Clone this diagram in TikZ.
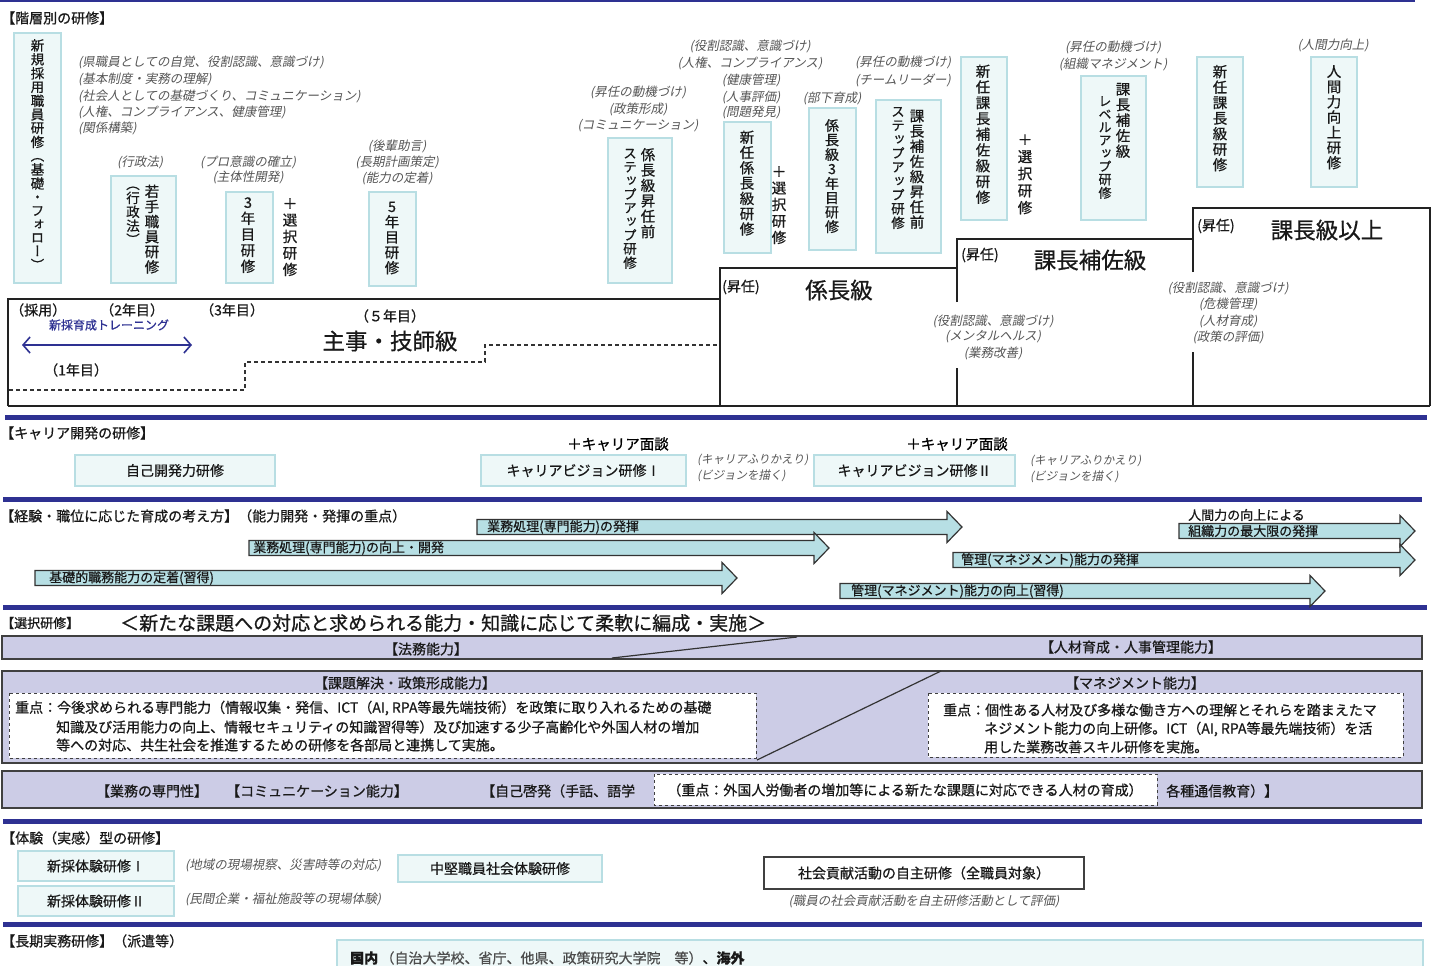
\documentclass[tikz,border=0pt]{standalone}
\usepackage{fontspec}
\setmainfont{Noto Sans CJK JP}[RawFeature={embolden=0.7}]
\newfontfamily\itf[FakeSlant=0.2]{Noto Sans CJK JP}
\newfontfamily\vf[RawFeature={+vert;embolden=0.7}]{Noto Sans CJK JP}
\usetikzlibrary{arrows.meta}
\definecolor{navy}{HTML}{2E3192}
\definecolor{boxfill}{HTML}{EEF8F8}
\definecolor{boxline}{HTML}{B8DEE3}
\definecolor{lav}{HTML}{CCCCE6}
\definecolor{arrfill}{HTML}{B7DFE4}
\definecolor{notegray}{HTML}{555555}
\definecolor{lvlline}{HTML}{222222}
\makeatletter
\newdimen\vcstep
\newcommand\vcol[2]{\vcstep=#1\relax\vbox{\offinterlineskip\vc@#2\@nil}}
\def\vc@#1#2\@nil{\hbox to 1.05em{\hss\vrule width 0pt height .8\vcstep depth .2\vcstep\relax#1\hss}\ifx\relax#2\relax\else\vc@#2\@nil\fi}
\makeatother
\tikzset{
 hdr/.style={font=\fontsize{14}{14}\selectfont, anchor=west, inner sep=0, text=black!90},
 cbx/.style={draw=boxline, fill=boxfill, line width=1.3, inner sep=0, font=\fontsize{14}{14}\selectfont, text=black!90},
 vtx/.style={inner sep=0, font=\vf\fontsize{14.5}{14.5}\selectfont, text=black!90},
 note/.style={font=\itf\fontsize{12.5}{12.5}\selectfont, text=notegray, inner sep=0},
 lvl/.style={draw=lvlline, line width=2.5},
 big/.style={font=\fontsize{22.5}{22.5}\selectfont, inner sep=0, text=black!90},
 small/.style={font=\fontsize{14}{14}\selectfont, inner sep=0, text=black!90},
 divider/.style={draw=navy, line width=5},
 arr/.style={draw=black!80, line width=1.2, fill=arrfill},
 arrlbl/.style={font=\fontsize{13}{13}\selectfont, anchor=west, inner sep=0, text=black!90},
 band/.style={draw=black!75, line width=1.2, fill=lav},
 dbox/.style={draw=black!75, dashed, line width=1, fill=white},
 body/.style={font=\fontsize{14}{14}\selectfont, anchor=west, inner sep=0, text=black!90},
}
\newcommand\cbox[6][]{\node[cbx,minimum width={(#5)-(#3)},minimum height={(#6)-(#4)},#1] (#2) at ({(#3+#5)/2},{(#4+#6)/2}) {};}
\newcommand\tbox[7][]{\node[cbx,minimum width={(#5)-(#3)},minimum height={(#6)-(#4)},#1] (#2) at ({(#3+#5)/2},{(#4+#6)/2}) {#7};}
\newcommand\vt[6][]{\node[vtx,#1] (#2) at (#3,#4) {\vcol{#5pt}{#6}};}
\newcommand\nt[4]{\node[note] (#1) at (#2,#3) {#4};}
\newcommand\ntl[4]{\node[note,anchor=west] (#1) at (#2,#3) {#4};}
\newcommand\harrow[4]{\draw[arr] (#1,#3-#4) -- (#2-15,#3-#4) -- (#2-15,#3-#4-8) -- (#2,#3) -- (#2-15,#3+#4+8) -- (#2-15,#3+#4) -- (#1,#3+#4) -- cycle;}
\begin{document}
\begin{tikzpicture}[x=1pt,y=-1pt]
\useasboundingbox (0,0) rectangle (1437,966);
\fill[white] (0,0) rectangle (1437,966);
% top line and dividers
\draw[navy, line width=2] (0,1) -- (1415,1);
\draw[divider] (5,417) -- (1427,417);
\draw[divider] (3,499) -- (1422,499);
\draw[divider] (3,607) -- (1427,607);
\draw[divider] (3,821) -- (1422,821);
\draw[divider] (3,924) -- (1422,924);

% ===== 階層別 =====
\node[hdr] (h1) at (1,18) {【階層別の研修】};

\cbox{b1}{14}{33}{61}{283}
\cbox{b2}{111}{176}{176}{283}
\cbox{b3}{226}{192}{273}{283}
\cbox{b4}{369}{192}{416}{286}
\cbox{b5}{608}{138}{672}{283}
\cbox{b6}{724}{122}{771}{253}
\cbox{b7}{809}{108}{856}{250}
\cbox{b8}{876}{100}{941}{253}
\cbox{b9}{961}{57}{1007}{220}
\cbox{b10}{1081}{76}{1146}{220}
\cbox{b11}{1197}{57}{1243}{187}
\cbox{b12}{1311}{57}{1357}{187}

\vt[font=\vf\fontsize{13.5}{13.5}\selectfont]{c1}{37.5}{156}{13.5}{新規採用職員研修（基礎・フォロー）}
\vt{c2a}{152}{230}{15}{若手職員研修}
\vt[font=\vf\fontsize{13.5}{13.5}\selectfont]{c2b}{133}{213}{13}{（行政法）}
\vt{c3}{248}{235}{16}{3年目研修}
\vt{p3}{290}{237}{16.5}{＋選択研修}
\vt{c4}{392}{238}{15.3}{5年目研修}
\vt{c5a}{648}{194}{15.4}{係長級昇任前}
\vt[font=\vf\fontsize{13.5}{13.5}\selectfont]{c5b}{630}{209}{13.6}{ステップアップ研修}
\vt{c6}{747}{184}{15.3}{新任係長級研修}
\vt{p6}{779}{205}{16.5}{＋選択研修}
\vt[font=\vf\fontsize{14}{14}\selectfont]{c7}{832}{177}{14.3}{係長級3年目研修}
\vt{c8a}{917}{170}{15.1}{課長補佐級昇任前}
\vt[font=\vf\fontsize{13.5}{13.5}\selectfont]{c8b}{898}{168}{13.9}{ステップアップ研修}
\vt{c9}{983}{135}{15.75}{新任課長補佐級研修}
\vt{p9}{1025}{174}{17}{＋選択研修}
\vt{c10a}{1123}{121}{15.5}{課長補佐級}
\vt[font=\vf\fontsize{13}{13}\selectfont]{c10b}{1105}{148}{13}{レベルアップ研修}
\vt{c11}{1220}{119}{15.5}{新任課長級研修}
\vt{c12}{1334}{118}{15.2}{人間力向上研修}

% notes
\ntl{n1a}{78}{62}{(県職員としての自覚、役割認識、意識づけ)}
\ntl{n1b}{78}{79}{(基本制度・実務の理解)}
\ntl{n1c}{78}{96}{(社会人としての基礎づくり、コミュニケーション)}
\ntl{n1d}{78}{112}{(人権、コンプライアンス、健康管理)}
\ntl{n1e}{78}{128}{(関係構築)}
\nt{n2}{140}{162}{(行政法)}
\nt{n3a}{248}{162}{(プロ意識の確立)}
\nt{n3b}{248}{177}{(主体性開発)}
\nt{n4a}{397}{146}{(後輩助言)}
\nt{n4b}{397}{162}{(長期計画策定)}
\nt{n4c}{397}{178}{(能力の定着)}
\nt{n5a}{638}{92}{(昇任の動機づけ)}
\nt{n5b}{638}{109}{(政策形成)}
\nt{n5c}{638}{126}{(コミュニケーション)}
\nt{n6a}{750}{46}{(役割認識、意識づけ)}
\nt{n6b}{750}{63}{(人権、コンプライアンス)}
\nt{n6c}{751}{80}{(健康管理)}
\nt{n6d}{751}{97}{(人事評価)}
\nt{n6e}{751}{112}{(問題発見)}
\nt{n7}{832}{98}{(部下育成)}
\nt{n8a}{903}{62}{(昇任の動機づけ)}
\nt{n8b}{903}{80}{(チームリーダー)}
\nt{n10a}{1113}{47}{(昇任の動機づけ)}
\nt{n10b}{1113}{64}{(組織マネジメント)}
\nt{n12}{1333}{45}{(人間力向上)}

% level staircase
\draw[lvl] (8,406) -- (1430,406);
\draw[lvl] (8,406) -- (8,299) -- (720,299);
\draw[lvl] (720,406) -- (720,268) -- (957,268);
\draw[lvl] (957,406) -- (957,368);
\draw[lvl] (957,302) -- (957,239) -- (1193,239);
\draw[lvl] (1193,406) -- (1193,352);
\draw[lvl] (1193,272) -- (1193,208) -- (1430,208) -- (1430,406);
\draw[black!80, line width=1.2, dash pattern=on 4pt off 3pt] (9,390) -- (245,390) -- (245,362) -- (485,362) -- (485,345) -- (718,345);

\node[small,anchor=west] (y0) at (10,310) {（採用）};
\node[small,anchor=west] (y2) at (100,310) {（2年目）};
\node[small,anchor=west] (y3) at (200,310) {（3年目）};
\node[small,anchor=west] (y1) at (44,370) {（1年目）};
\node[font=\fontsize{12}{12}\selectfont, text=navy, inner sep=0] (trn) at (109,325) {新採育成トレーニング};
\coordinate (ta) at (22,345);
\coordinate (tb) at (192,345);
\draw[navy, line width=1.6, {Straight Barb[length=7pt,width=16pt]}-{Straight Barb[length=7pt,width=16pt]}] (ta) -- (tb);
\node[small] (y5) at (390,316) {（５年目）};
\node[big] (L1) at (390,341) {主事・技師級};
\node[small,anchor=west] (s1) at (722,287) {(昇任)};
\node[big] (L2) at (839,290) {係長級};
\node[small,anchor=west] (s2) at (961,255) {(昇任)};
\node[big] (L3) at (1090,260) {課長補佐級};
\node[small,anchor=west] (s3) at (1197,226) {(昇任)};
\node[big] (L4) at (1327,230) {課長級以上};
\nt{m1}{993}{321}{(役割認識、意識づけ)}
\nt{m2}{993}{337}{(メンタルヘルス)}
\nt{m3}{993}{353}{(業務改善)}
\nt{k1a}{1228}{288}{(役割認識、意識づけ)}
\nt{k1b}{1228}{304}{(危機管理)}
\nt{k1c}{1228}{321}{(人材育成)}
\nt{k1d}{1228}{337}{(政策の評価)}

% ===== キャリア =====
\node[hdr] (h2) at (0,433) {【キャリア開発の研修】};
\tbox{cv0}{75}{455}{275}{486}{自己開発力研修}
\tbox{cv1}{481}{455}{686}{486}{キャリアビジョン研修Ⅰ}
\tbox{cv2}{814}{455}{1015}{486}{キャリアビジョン研修Ⅱ}
\node[font=\fontsize{14.5}{14.5}\selectfont, inner sep=0] (pm1) at (618,444) {＋キャリア面談};
\node[font=\fontsize{14.5}{14.5}\selectfont, inner sep=0] (pm2) at (957,444) {＋キャリア面談};
\ntl{cn1a}{697}{460}{\fontsize{11.5}{11.5}\selectfont(キャリアふりかえり)}
\ntl{cn1b}{697}{476}{\fontsize{11.5}{11.5}\selectfont(ビジョンを描く)}
\ntl{cn2a}{1030}{461}{\fontsize{11.5}{11.5}\selectfont(キャリアふりかえり)}
\ntl{cn2b}{1030}{477}{\fontsize{11.5}{11.5}\selectfont(ビジョンを描く)}

% ===== 考え方 arrows =====
\node[hdr] (h3) at (0,516) {【経験・職位に応じた育成の考え方】（能力開発・発揮の重点）};
\harrow{477}{962}{527}{7.5}
\harrow{249}{829}{548}{7.5}
\harrow{35}{737}{578}{7.5}
\harrow{1179}{1415}{531}{7.5}
\harrow{953}{1415}{560}{7.5}
\harrow{840}{1325}{591}{7.5}
\node[arrlbl] (a1) at (487,527) {業務処理(専門能力)の発揮};
\node[arrlbl] (a2) at (253,548) {業務処理(専門能力)の向上・開発};
\node[arrlbl] (a3) at (49,578) {基礎的職務能力の定着(習得)};
\node[arrlbl] (a4t) at (1188,515) {人間力の向上による};
\node[arrlbl] (a4) at (1188,531) {組織力の最大限の発揮};
\node[arrlbl] (a5) at (961,560) {管理(マネジメント)能力の発揮};
\node[arrlbl] (a6) at (851,591) {管理(マネジメント)能力の向上(習得)};

% ===== 選択研修 =====
\node[hdr,font=\fontsize{13}{13}\selectfont] (h4) at (1,623) {【選択研修】};
\node[hdr,font=\fontsize{19}{19}\selectfont] (h4b) at (120,623) {＜新たな課題への対応と求められる能力・知識に応じて柔軟に編成・実施＞};
\draw[band] (2,636) rectangle (1422,659);
\draw[black!80, line width=1.2] (612,658) -- (797,637);
\node[small] (sb1) at (426,649) {【法務能力】};
\node[small] (sb2) at (1131,647) {【人材育成・人事管理能力】};
\draw[band] (2,671) rectangle (1422,763);
\draw[dbox] (9,693) rectangle (756,758);
\draw[dbox] (928,693) rectangle (1403,757);
\draw[black!80, line width=1.2] (757,760) -- (941,671);
\node[small] (sb3) at (405,683) {【課題解決・政策形成能力】};
\node[small] (sb4) at (1135,683) {【マネジメント能力】};
\node[body] (t1) at (15,708) {重点：今後求められる専門能力（情報収集・発信、ICT（AI, RPA等最先端技術）を政策に取り入れるための基礎};
\node[body] (t2) at (56,727) {知識及び活用能力の向上、情報セキュリティの知識習得等）及び加速する少子高齢化や外国人材の増加};
\node[body] (t3) at (56,745) {等への対応、共生社会を推進するための研修を各部局と連携して実施。};
\node[body] (u1) at (943,710) {重点：個性ある人材及び多様な働き方への理解とそれらを踏まえたマ};
\node[body] (u2) at (984,729) {ネジメント能力の向上研修。ICT（AI, RPA等最先端技術）を活};
\node[body] (u3) at (984,747) {用した業務改善スキル研修を実施。};
\draw[band] (2,771) rectangle (1422,808);
\draw[dbox] (654,774) rectangle (1157,805);
\node[small] (w1) at (152,791) {【業務の専門性】};
\node[small] (w2) at (317,791) {【コミュニケーション能力】};
\node[body] (w3) at (481,791) {【自己啓発（手話、語学};
\node[small] (w4) at (905,790) {（重点：外国人労働者の増加等による新たな課題に対応できる人材の育成）};
\node[body] (w5) at (1166,791) {各種通信教育）】};

% ===== 体験型 =====
\node[hdr] (h5) at (1,838) {【体験（実感）型の研修】};
\tbox{e1}{18}{851}{174}{881}{新採体験研修Ⅰ}
\tbox{e2}{398}{855}{602}{882}{中堅職員社会体験研修}
\tbox{e3}{18}{886}{174}{916}{新採体験研修Ⅱ}
\ntl{en1}{185}{865}{(地域の現場視察、災害時等の対応)}
\ntl{en2}{185}{899}{(民間企業・福祉施設等の現場体験)}
\tbox[draw=black!75, fill=white, line width=1.2]{e4}{764}{857}{1084}{889}{社会貢献活動の自主研修（全職員対象）}
\nt{en3}{924}{901}{(職員の社会貢献活動を自主研修活動として評価)}

% ===== 長期 =====
\node[hdr] (h6) at (1,941) {【長期実務研修】（派遣等）};
\tbox{lt}{337}{940}{1423}{990}{}
\node[body] (ltx) at (350,958) {\textbf{国内}\,{\color{black!70}（自治大学校、省庁、他県、政策研究大学院　等）}、\textbf{海外}};
\end{tikzpicture}
\end{document}
